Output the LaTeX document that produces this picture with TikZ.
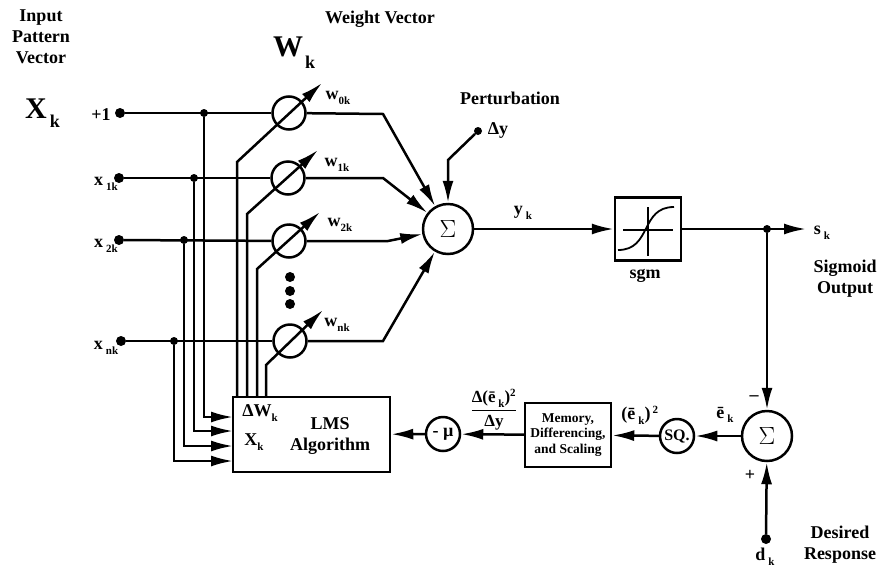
\documentclass[tikz,border=0pt]{standalone}
\usepackage{fontspec}
\usepackage{amsmath}
\setmainfont{Liberation Serif}
\usetikzlibrary{arrows.meta}
\newcommand{\sbs}[1]{\raisebox{-.55ex}{\fontsize{11}{11}\selectfont #1}}
\newcommand{\sz}[1]{\fontsize{#1}{#1}\selectfont}
\tikzset{
  sig/.style={line width=2.5pt},
  arr/.style={line width=2.5pt,-{Latex[length=22pt,width=11pt]}},
  dotnode/.style={circle,fill=black,inner sep=0pt,minimum size=10pt},
  junc/.style={circle,fill=black,inner sep=0pt,minimum size=8pt},
  weight/.style={circle,draw,line width=2.5pt,inner sep=0pt,minimum size=33pt},
  sumnode/.style={circle,draw,line width=2.5pt,inner sep=0pt,minimum size=50pt,font=\sz{34}\mdseries},
  unit/.style={circle,draw,line width=2.5pt,inner sep=0pt,minimum size=34pt},
  block/.style={rectangle,draw,line width=2.5pt,inner sep=0pt,align=center},
  txt/.style={inner sep=0pt,align=center}
}
\begin{document}
\begin{tikzpicture}[x=1pt,y=-1pt,font=\bfseries\sz{18}]
\useasboundingbox (0,0) rectangle (882,568);

\node[dotnode] (in0) at (120,113) {};
\node[dotnode] (in1) at (119,178) {};
\node[dotnode] (in2) at (119,240) {};
\node[dotnode] (inn) at (121,341) {};
\node[junc] (j0) at (204,113) {};
\node[junc] (j1) at (194,178) {};
\node[junc] (j2) at (184,240) {};
\node[junc] (jn) at (174,341) {};
\node[weight] (w0) at (289,113) {};
\node[weight] (w1) at (288,178) {};
\node[weight] (w2) at (289,241) {};
\node[weight] (wn) at (290,341) {};

\node[sumnode] (sum) at (448,229) {$\Sigma$};
\node[block,minimum width=66pt,minimum height=63pt] (sgm) at (648,229) {};
\node[sumnode] (err) at (767,436) {$\Sigma$};
\node[unit] (sq) at (677,436) {\sz{16}SQ.};
\node[block,minimum width=86pt,minimum height=64pt,font=\bfseries\sz{13.5}] (mem) at (568,435) {Memory,\\[2pt]Differencing,\\[2pt]and Scaling};
\node[unit] (mu) at (443,434) {- µ};
\node[block,minimum width=157pt,minimum height=75pt] (lms) at (311.5,434.5) {};

\node[junc] (jout) at (767,229) {};
\node[dotnode] (des) at (766,539) {};
\node[junc] (pd) at (478,131) {};
\coordinate (pk) at (448,160);
\coordinate (out) at (806,229);
\coordinate (b0) at (383,114);
\coordinate (b1) at (383,178);
\coordinate (b2) at (388,241);
\coordinate (bn) at (383,341);

\coordinate (p0) at (233,417);
\coordinate (p1) at (233,431);
\coordinate (p2) at (233,446);
\coordinate (pn) at (233,461);
\coordinate (a0) at (237,397);
\coordinate (a1) at (247,397);
\coordinate (a2) at (257,397);
\coordinate (an) at (266,397);
\coordinate (k0) at (237,162);
\coordinate (k1) at (247,214);
\coordinate (k2) at (257,269);
\coordinate (kn) at (266,365);
\coordinate (t0) at (322,83);
\coordinate (t1) at (318,150);
\coordinate (t2) at (320,212);
\coordinate (tn) at (323,310);

\draw[sig] (in0) -- (w0);
\draw[sig] (in1) -- (w1);
\draw[sig] (in2) -- (w2);
\draw[sig] (inn) -- (wn);
\draw[arr] (j0) |- (p0);
\draw[arr] (j1) |- (p1);
\draw[arr] (j2) |- (p2);
\draw[arr] (jn) |- (pn);
\draw[arr] (a0) -- (k0) -- (t0);
\draw[arr] (a1) -- (k1) -- (t1);
\draw[arr] (a2) -- (k2) -- (t2);
\draw[arr] (an) -- (kn) -- (tn);
\draw[arr] (w0) -- (b0) -- (sum);
\draw[arr] (w1) -- (b1) -- (sum);
\draw[arr] (w2) -- (b2) -- (sum);
\draw[arr] (wn) -- (bn) -- (sum);
\draw[arr] (pd) -- (pk) -- (sum);
\draw[arr] (sum) -- (sgm);
\draw[arr] (sgm) -- (out);
\draw[arr] (jout) -- (err);
\draw[arr] (des) -- (err);
\draw[arr] (err) -- (sq);
\draw[arr] (sq) -- (mem);
\draw[arr] (mem) -- (mu);
\draw[arr] (mu) -- (lms);

\draw[line width=1.2pt] (623,230) -- (673,230);
\draw[line width=1.2pt] (648,207) -- (648,256);
\draw[line width=1.8pt] (618,250) .. controls (652,250) and (640,207) .. (674,207);

\node[dotnode] (dot1) at (290,277) {};
\node[dotnode] (dot2) at (290,291) {};
\node[dotnode] (dot3) at (290,304) {};

\node[txt] (linput) at (41,37) {Input\\[3pt]Pattern\\[3pt]Vector};
\node[txt] (lweight) at (380,19) {Weight Vector};
\node[txt,font=\bfseries\sz{30}] (lw) at (288,47) {W};
\node[txt] (lwk) at (310,62) {k};
\node[txt,font=\bfseries\sz{30}] (lx) at (36,109) {X};
\node[txt] (lxk) at (55,121) {k};
\node[txt] (lone) at (101,115) {+1};
\node[txt] (lx1) at (106,184) {x\,\sbs{1k}};
\node[txt] (lx2) at (106,246) {x\,\sbs{2k}};
\node[txt] (lxn) at (106,348) {x\,\sbs{nk}};
\node[txt] (lw0) at (338,98) {w\sbs{0k}};
\node[txt] (lw1) at (337,165) {w\sbs{1k}};
\node[txt] (lw2) at (340,225) {w\sbs{2k}};
\node[txt] (lwn) at (337,325) {w\sbs{nk}};
\node[txt] (lpert) at (510,98) {Perturbation};
\node[txt] (ldy) at (498,130) {Δy};
\node[txt] (ly) at (523,213) {y\,\sbs{k}};
\node[txt] (lsgm) at (645,276) {sgm};
\node[txt] (ls) at (822,233) {s\,\sbs{k}};
\node[txt] (lout) at (845,279) {Sigmoid\\[3pt]Output};
\node[txt] (ldes) at (840,545) {Desired\\[3pt]Response};
\node[txt] (ld) at (765,557) {d\,\sbs{k}};
\node[txt] (lminus) at (754,398) {--};
\node[txt] (lplus) at (750,475) {+};
\node[txt] (le) at (725,415) {ē\,\sbs{k}};
\node[txt] (lsq) at (640,415) {(ē\,\sbs{k})$^{\,\hbox{\sz{11}\bfseries 2}}$};
\node[txt] (lfrac) at (494,410) {$\genfrac{}{}{1pt}{0}{\hbox{\bfseries\sz{17}Δ(ē\,\sbs{k})$^{\hbox{\sz{11}\bfseries 2}}$}}{\hbox{\bfseries\sz{17}Δy}}$};
\node[txt,font=\bfseries\sz{18}] (ldw) at (260,413) {ΔW\sbs{k}};
\node[txt,font=\bfseries\sz{18}] (lxk2) at (254,442) {X\sbs{k}};
\node[txt,font=\bfseries\sz{18}] (llms) at (330,436) {LMS\\[3pt]Algorithm};

\end{tikzpicture}
\end{document}
